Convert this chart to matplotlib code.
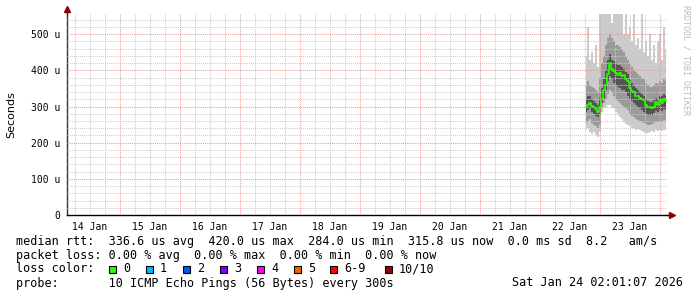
import numpy as np
import matplotlib
matplotlib.use("Agg")
import matplotlib.pyplot as plt

W, H = 697, 297

# samples every 48 min, first one Jan 22 18:24 (x values are day of month)
sample_start = 22 + 18.4 / 24
sample_step = 48 / 1440

# median rtt, microseconds
median_us = [300, 305, 310, 302, 298, 292, 284, 300, 320, 345,
             360, 390, 420, 405, 398, 392, 388, 392, 385, 388,
             375, 372, 350, 342, 340, 330, 328, 325, 320, 318,
             305, 300, 298, 296, 300, 312, 305, 318, 310, 322, 316]

# smoke bands (outer = lightest)
outer_hi = [440, 520, 430, 450, 420, 470, 410, 556, 556, 556,
            556, 556, 556, 530, 556, 556, 556, 556, 556, 500,
            556, 500, 520, 480, 556, 470, 490, 460, 556, 450,
            480, 440, 500, 430, 470, 420, 480, 500, 430, 520, 460]
mid_hi = [360, 370, 360, 355, 350, 345, 340, 380, 420, 440,
          470, 490, 500, 490, 480, 470, 470, 465, 460, 450,
          440, 430, 420, 410, 400, 395, 390, 385, 380, 375,
          365, 360, 355, 355, 360, 365, 362, 370, 365, 375, 370]
inner_hi = [320, 330, 330, 320, 315, 310, 305, 325, 350, 375,
            400, 430, 445, 430, 425, 420, 415, 415, 410, 405,
            395, 390, 375, 365, 360, 350, 345, 340, 335, 330,
            320, 315, 312, 312, 318, 325, 322, 330, 328, 335, 330]
inner_lo = [285, 290, 295, 285, 280, 275, 270, 280, 310, 325,
            345, 370, 385, 375, 365, 360, 355, 350, 345, 345,
            340, 330, 320, 315, 310, 305, 300, 295, 290, 285,
            280, 278, 276, 278, 282, 288, 285, 290, 288, 292, 290]
mid_lo = [255, 260, 265, 255, 250, 245, 240, 250, 300, 310,
          320, 335, 345, 340, 330, 320, 315, 310, 305, 300,
          295, 290, 280, 275, 270, 265, 262, 260, 258, 255,
          252, 250, 250, 252, 255, 258, 256, 260, 258, 262, 260]
outer_lo = [235, 240, 230, 225, 230, 220, 215, 230, 285, 295,
            300, 305, 305, 300, 295, 285, 280, 272, 265, 258,
            252, 250, 245, 240, 240, 235, 238, 235, 232, 230,
            228, 228, 230, 232, 230, 235, 232, 235, 233, 236, 235]

days = list(range(14, 24))
day_labels = [f"{d} Jan" for d in days]
y_ticks = [0, 100, 200, 300, 400, 500]
y_labels = ["0", "100 u", "200 u", "300 u", "400 u", "500 u"]

legend_lines = [
    "median rtt:  336.6 us avg  420.0 us max  284.0 us min  315.8 us now  0.0 ms sd  8.2   am/s",
    "packet loss: 0.00 % avg  0.00 % max  0.00 % min  0.00 % now",
    "loss color:",
    "probe:       10 ICMP Echo Pings (56 Bytes) every 300s",
]
loss_labels = ["0", "1", "2", "3", "4", "5", "6-9", "10/10"]
loss_colors = ["#26ff00", "#00b8ff", "#0059ff", "#7e00ff", "#ff00ff",
               "#ff5e00", "#ff0000", "#a10000"]
stamp = "Sat Jan 24 02:01:07 2026"

mono = "DejaVu Sans Mono"
t = sample_start + np.arange(len(median_us)) * sample_step

fig = plt.figure(figsize=(W / 100, H / 100), dpi=100)
fig.patch.set_facecolor("white")
ax = fig.add_axes([67 / W, 1 - 215 / H, 600 / W, 201 / H])
ax.set_xlim(14 + 7 / 60, 24 + 7 / 60)
ax.set_ylim(0, 556)

ax.fill_between(t, outer_lo, outer_hi, step="mid", color="#cbcbcb", lw=0, zorder=1)
ax.fill_between(t, mid_lo, mid_hi, step="mid", color="#9a9a9a", lw=0, zorder=1.1)
ax.fill_between(t, inner_lo, inner_hi, step="mid", color="#555555", lw=0, zorder=1.2)
ax.step(t, median_us, where="mid", color="#26ff00", lw=1.2, zorder=4)

# grid over the data, like rrdtool
dots = (0, (1, 1))
for v in np.arange(20, 556, 20):
    if v % 100:
        ax.axhline(v, color="#cccccc", lw=0.75, ls=dots, zorder=3)
for d in np.arange(14.25, 24.2, 0.25):
    if d % 1:
        ax.axvline(d, color="#cccccc", lw=0.75, ls=dots, zorder=3)
for v in y_ticks[1:]:
    ax.axhline(v, color="#e8a0a0", lw=0.75, ls=dots, zorder=3.1)
for d in days[1:] + [24]:
    ax.axvline(d, color="#e8a0a0", lw=0.75, ls=dots, zorder=3.1)

ax.set_xticks([d + 0.5 for d in days])
ax.set_xticklabels(day_labels, family=mono, fontsize=7)
ax.set_yticks(y_ticks)
ax.set_yticklabels(y_labels, family=mono, fontsize=7)
ax.tick_params(length=0, pad=5)
ax.set_ylabel("Seconds", fontsize=8)
ax.yaxis.set_label_coords(-51 / 600, 0.5)

for s in ["top", "right"]:
    ax.spines[s].set_visible(False)
ax.spines["left"].set_color("#333333")
ax.spines["bottom"].set_color("#000000")
ax.spines["left"].set_linewidth(1)
ax.spines["bottom"].set_linewidth(1)
ax.plot([0, 0], [1, 1 + 4 / 201], color="#333333", lw=1, transform=ax.transAxes, clip_on=False)
ax.plot([1, 1 + 2 / 600], [0, 0], color="#000000", lw=1, transform=ax.transAxes, clip_on=False)
ax.plot([0], [1 + 5 / 201], marker="^", ms=4.5, color="#8b0000", mec="#8b0000",
        transform=ax.transAxes, clip_on=False)
ax.plot([1 + 5 / 600], [0], marker=">", ms=4.5, color="#8b0000", mec="#8b0000",
        transform=ax.transAxes, clip_on=False)

fig.text(686 / W, 1 - 60 / H, "RRDTOOL / TOBI OETIKER", rotation=270, family=mono,
         fontsize=6, color="#bbbbbb", ha="center", va="center")

# legend text block
line_y = [241, 255, 269, 283]
for line, y in zip(legend_lines, line_y):
    fig.text(16 / W, 1 - y / H, line, family=mono, fontsize=8.5, ha="left", va="center")

box_x = [109, 146, 183, 220, 257, 294, 330, 385]
for bx, lab, c in zip(box_x, loss_labels, loss_colors):
    fig.patches.append(plt.Rectangle((bx / W, 1 - 273 / H), 7 / W, 7 / H, facecolor=c,
                                     edgecolor="black", lw=0.8, transform=fig.transFigure))
    fig.text((bx + 14) / W, 1 - 269 / H, lab, family=mono, fontsize=8.5, ha="left", va="center")

fig.text(683 / W, 1 - 283 / H, stamp, family=mono, fontsize=8.5, ha="right", va="center")

fig.savefig("out.png", dpi=100, facecolor="white")
